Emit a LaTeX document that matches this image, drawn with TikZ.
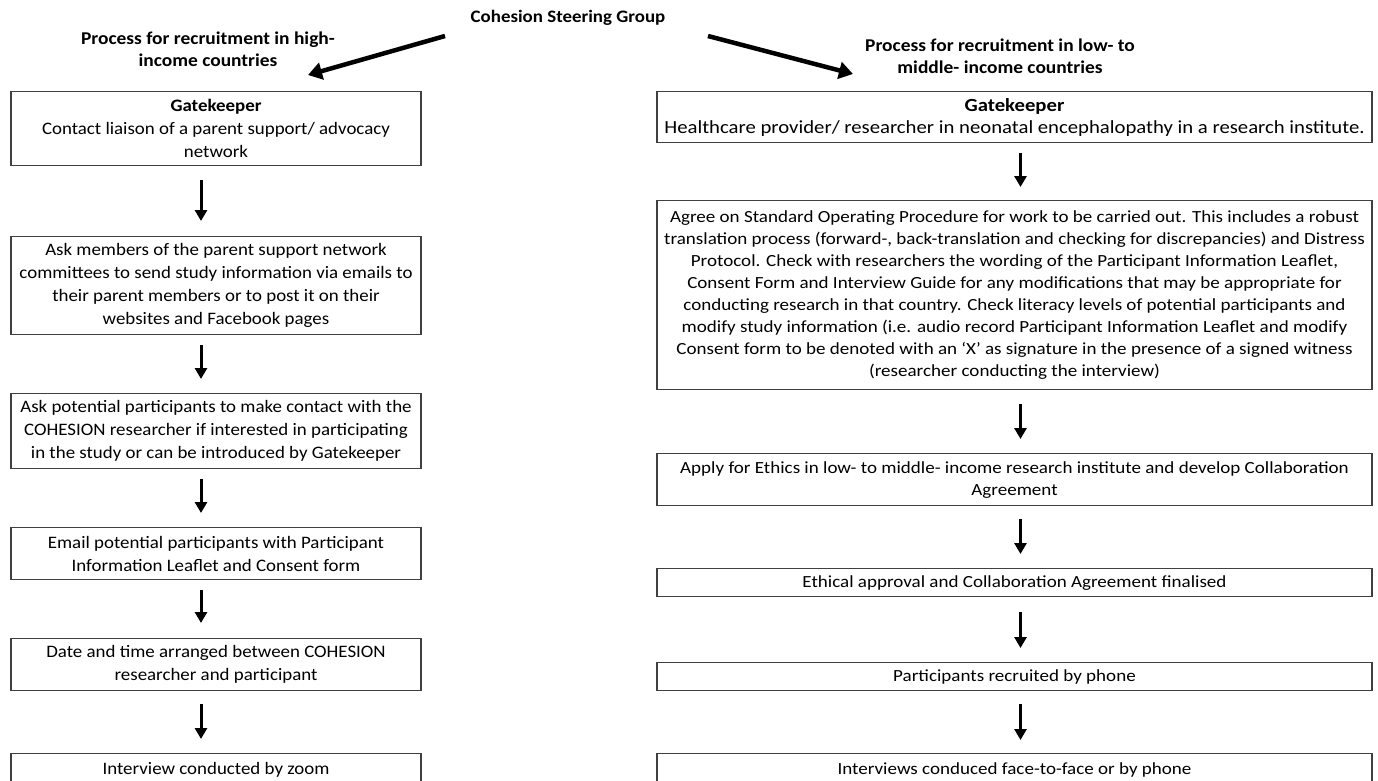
\documentclass[tikz,border=0pt]{standalone}
\usepackage{fontspec}
\setmainfont{Carlito}
\newfontfamily\leftfont[FakeStretch=1.08]{Carlito}
\newfontfamily\rightfont[FakeStretch=1.12]{Carlito}
\usetikzlibrary{arrows.meta}
\tikzset{
  stepbox/.style={draw=black!75, line width=1.2pt, align=center, anchor=north, inner sep=0pt, fill=white},
  leftbox/.style={stepbox, minimum width=410pt, font=\leftfont\fontsize{17.5}{23}\selectfont},
  rightbox/.style={stepbox, minimum width=715pt, font=\rightfont\fontsize{17}{22}\selectfont},
  downarrow/.style={-{Triangle[width=12pt,length=11pt]}, line width=3pt},
  bigarrow/.style={-{Triangle[width=17pt,length=14pt]}, line width=4.5pt},
  heading/.style={font=\leftfont\bfseries\fontsize{18}{22.5}\selectfont, align=center}
}
\begin{document}
\begin{tikzpicture}[x=1pt, y=-1pt]
    \useasboundingbox (0,0) rectangle (1378,780);

    % Headings
    \node[heading, font=\leftfont\bfseries\fontsize{17.5}{22.5}\selectfont] (csg) at (568, 18) {Cohesion Steering Group};
    \node[heading] (hiHead) at (208, 49) {Process for recruitment in high-\\income countries};
    \node[heading] (lmHead) at (1000, 56) {Process for recruitment in low- to\\middle- income countries};
    \coordinate (hiStart) at (445, 36);
    \coordinate (hiEnd) at (308, 75);
    \coordinate (lmStart) at (708, 36);
    \coordinate (lmEnd) at (853, 74);
    \draw[bigarrow] (hiStart) -- (hiEnd);
    \draw[bigarrow] (lmStart) -- (lmEnd);

    % High-income countries
    \node[leftbox, minimum height=74pt] (hi1) at (216, 91) {\textbf{Gatekeeper}\\Contact liaison of a parent support/ advocacy\\network};
    \node[leftbox, minimum height=98pt] (hi2) at (216, 236) {Ask members of the parent support network\\committees to send study information via emails to\\their parent members or to post it on their\\websites and Facebook pages};
    \node[leftbox, minimum height=75pt] (hi3) at (216, 393) {Ask potential participants to make contact with the\\COHESION researcher if interested in participating\\in the study or can be introduced by Gatekeeper};
    \node[leftbox, minimum height=52pt] (hi4) at (216, 527) {Email potential participants with Participant\\Information Leaflet and Consent form};
    \node[leftbox, minimum height=52pt] (hi5) at (216, 638) {Date and time arranged between COHESION\\researcher and participant};
    \node[leftbox, minimum height=32pt] (hi6) at (216, 753) {Interview conducted by zoom};

    \draw[downarrow, shorten <=14pt, shorten >=15pt] ([xshift=-15pt]hi1.south) -- ([xshift=-15pt]hi2.north);
    \draw[downarrow, shorten <=10pt, shorten >=14pt] ([xshift=-15pt]hi2.south) -- ([xshift=-15pt]hi3.north);
    \draw[downarrow, shorten <=10pt, shorten >=14pt] ([xshift=-15pt]hi3.south) -- ([xshift=-15pt]hi4.north);
    \draw[downarrow, shorten <=10pt, shorten >=15pt] ([xshift=-15pt]hi4.south) -- ([xshift=-15pt]hi5.north);
    \draw[downarrow, shorten <=13pt, shorten >=14pt] ([xshift=-15pt]hi5.south) -- ([xshift=-15pt]hi6.north);

    % Low- to middle-income countries
    \node[rightbox, minimum height=51pt, font=\rightfont\fontsize{18.5}{22}\selectfont] (lm1) at (1014.5, 91) {\textbf{Gatekeeper}\\Healthcare provider/ researcher in neonatal encephalopathy in a research institute.};
    \node[rightbox, minimum height=189pt] (lm2) at (1014.5, 200) {Agree on Standard Operating Procedure for work to be carried out. This includes a robust\\translation process (forward-, back-translation and checking for discrepancies) and Distress\\Protocol. Check with researchers the wording of the Participant Information Leaflet,\\Consent Form and Interview Guide for any modifications that may be appropriate for\\conducting research in that country. Check literacy levels of potential participants and\\modify study information (i.e. audio record Participant Information Leaflet and modify\\Consent form to be denoted with an ‘X’ as signature in the presence of a signed witness\\(researcher conducting the interview)};
    \node[rightbox, minimum height=52pt] (lm3) at (1014.5, 453) {Apply for Ethics in low- to middle- income research institute and develop Collaboration\\Agreement};
    \node[rightbox, minimum height=28pt] (lm4) at (1014.5, 568) {Ethical approval and Collaboration Agreement finalised};
    \node[rightbox, minimum height=28pt] (lm5) at (1014.5, 662) {Participants recruited by phone};
    \node[rightbox, minimum height=32pt] (lm6) at (1014.5, 753) {Interviews conduced face-to-face or by phone};

    \draw[downarrow, shorten <=10pt, shorten >=13pt] ([xshift=6pt]lm1.south) -- ([xshift=6pt]lm2.north);
    \draw[downarrow, shorten <=14pt, shorten >=14pt] ([xshift=6pt]lm2.south) -- ([xshift=6pt]lm3.north);
    \draw[downarrow, shorten <=13pt, shorten >=14pt] ([xshift=6pt]lm3.south) -- ([xshift=6pt]lm4.north);
    \draw[downarrow, shorten <=15pt, shorten >=14pt] ([xshift=6pt]lm4.south) -- ([xshift=6pt]lm5.north);
    \draw[downarrow, shorten <=13pt, shorten >=13pt] ([xshift=6pt]lm5.south) -- ([xshift=6pt]lm6.north);
\end{tikzpicture}
\end{document}
